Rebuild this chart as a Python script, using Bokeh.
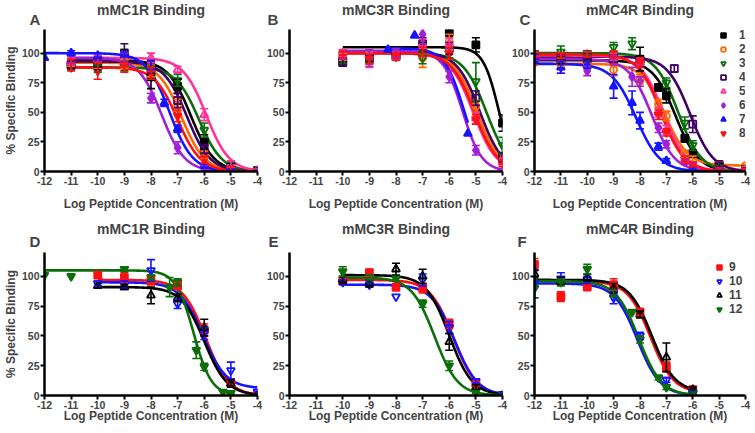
import numpy as np
from bokeh.plotting import figure
from bokeh.models import (Range1d, FixedTicker, Whisker, TeeHead, Title,
                          ColumnDataSource, Legend, LegendItem)
from bokeh.layouts import gridplot
from bokeh.embed import file_html
from bokeh.resources import INLINE

FONT = "Liberation Sans"

# ---------------- data ----------------
x_ticks = [-12, -11, -10, -9, -8, -7, -6, -5, -4]
x_tick_labels = ["-12", "-11", "-10", "-9", "-8", "-7", "-6", "-5", "-4"]
y_ticks = [0, 25, 50, 75, 100]
y_tick_labels = ["0", "25", "50", "75", "100"]

panel_titles = ["mMC1R Binding", "mMC3R Binding", "mMC4R Binding",
                "mMC1R Binding", "mMC3R Binding", "mMC4R Binding"]
panel_letters = ["A", "B", "C", "D", "E", "F"]
x_label = "Log Peptide Concentration (M)"
y_label = "% Specific Binding"

top_names = ["1", "2", "3", "4", "5", "6", "7", "8"]
top_colors = ["#000000", "#FF6A00", "#0B6E0B", "#3F0068", "#FF3399", "#A020D8", "#1414FF", "#FF1010"]
top_markers = ["square", "circle", "inverted_triangle", "square", "triangle", "diamond", "triangle", "inverted_triangle"]
top_filled = [True, False, False, False, False, True, True, True]

bot_names = ["9", "10", "11", "12"]
bot_colors = ["#FF1010", "#1414FF", "#000000", "#0B6E0B"]
bot_markers = ["square", "inverted_triangle", "triangle", "inverted_triangle"]
bot_filled = [True, False, False, True]

# fit parameters: [top, bottom, logIC50, hill]
A_x = [-12, -11, -10, -9, -8, -7.5, -7, -6, -5, -4]
A_y = [
    [None, 90, 92, 97, 80, None, 72, 25, 4, 1],
    [None, 92, 90, 91, 85, None, 56, 14, 2, 1],
    [None, 88, 87, 89, 86, None, 77, 35, 5, 1],
    [None, 90, 90, 100, 88, None, 60, 19, 2, 0],
    [None, 93, 95, 96, 96, None, 86, 48, 6, 1],
    [None, 95, 96, 96, 62, None, 20, 3, 1, 0],
    [96, 100, 98, 99, 90, 58, 36, 5, 1, 0],
    [None, 90, 85, 88, 83, None, 47, 10, 2, 0],
]
A_err = [
    [0, 3, 4, 6, 10, 0, 6, 6, 3, 1],
    [0, 3, 3, 4, 5, 0, 5, 3, 2, 1],
    [0, 2, 3, 4, 3, 0, 5, 6, 3, 1],
    [0, 3, 4, 8, 5, 0, 6, 4, 2, 1],
    [0, 3, 3, 5, 4, 0, 3, 5, 3, 1],
    [0, 3, 3, 4, 4, 0, 5, 2, 1, 1],
    [0, 2, 2, 2, 4, 3, 3, 2, 1, 1],
    [0, 5, 7, 4, 5, 0, 5, 3, 2, 1],
]
A_fit = [[94, 0, -6.5, 1], [92, 0, -6.85, 1], [88, 0, -6.2, 1], [93, 0, -6.65, 1],
         [96, 0, -5.93, 1], [96, 0, -7.6, 1], [100, 0, -7.3, 1], [88, 0, -7.0, 1]]

B_x = [-10, -9, -8.3, -8, -7.3, -7, -6, -5.3, -5, -4]
B_y = [
    [93, 96, None, 97, None, 105, 118, None, 107, 41],
    [97, 96, None, 97, None, 96, 110, None, 55, 12],
    [94, 96, None, 97, None, 96, 100, None, 76, 22],
    [92, 95, None, 98, None, 108, 104, None, 62, 12],
    [100, 94, None, 98, None, 108, 108, None, 45, 8],
    [98, 96, None, 100, None, 116, 80, None, 18, 0],
    [None, None, 103, None, 115, None, None, 32, None, None],
    [99, 95, None, 97, None, 101, 100, None, 44, 7],
]
B_err = [
    [2, 3, 0, 3, 0, 4, 4, 0, 6, 7],
    [3, 5, 0, 3, 0, 8, 6, 0, 5, 4],
    [3, 4, 0, 3, 0, 5, 4, 0, 16, 7],
    [3, 4, 0, 3, 0, 5, 5, 0, 6, 4],
    [3, 6, 0, 3, 0, 4, 5, 0, 5, 3],
    [3, 7, 0, 4, 0, 8, 5, 0, 4, 1],
    [0, 0, 0, 0, 0, 0, 0, 0, 0, 0],
    [3, 4, 0, 3, 0, 4, 5, 0, 4, 3],
]
B_fit = [[105, 0, -4.15, 1.5], [100, 0, -4.95, 1], [100, 0, -4.6, 1], [101, 0, -4.85, 1],
         [100, 0, -5.1, 1], [102, 0, -5.5, 1.2], [104, 0, -5.45, 1.2], [100, 0, -5.05, 1]]

C_x = [-12, -11, -10, -9, -8.3, -8, -7.3, -7, -6.7, -6.3, -6, -5, -4]
C_y = [
    [94, 94, 95, 96, None, 95, 71, 64, None, 28, 15, 5, 1],
    [92, 91, 90, 86, None, 78, 57, 47, None, 15, 10, 6, 5],
    [100, 101, 100, 105, 108, None, None, 75, None, 41, 22, 3, 1],
    [97, 96, 98, 95, None, 93, None, None, 87, None, 40, 6, 2],
    [99, 98, 99, 97, None, 93, 50, 35, None, 10, 5, 2, 1],
    [96, 88, 85, 94, 80, 76, 37, 23, None, 8, 5, 2, 1],
    [93, 88, 90, 72, 58, 43, 21, 9, None, None, 2, 1, 0],
    [99, 98, 99, 99, None, 92, 48, 33, None, 10, 6, 2, 1],
]
C_err = [
    [3, 3, 2, 4, 0, 10, 3, 6, 0, 3, 3, 2, 1],
    [2, 2, 3, 5, 0, 4, 4, 4, 0, 3, 3, 2, 1],
    [2, 5, 2, 4, 5, 0, 0, 4, 0, 5, 4, 2, 1],
    [2, 3, 2, 3, 0, 3, 0, 0, 3, 0, 7, 2, 1],
    [2, 2, 2, 3, 0, 3, 4, 4, 0, 3, 2, 1, 1],
    [2, 5, 4, 4, 8, 4, 4, 3, 0, 2, 2, 1, 1],
    [2, 5, 3, 10, 10, 7, 3, 2, 0, 0, 1, 1, 1],
    [2, 2, 2, 3, 0, 4, 4, 3, 0, 3, 2, 1, 1],
]
C_fit = [[94, 0, -6.65, 1], [91, 5, -7.05, 1], [100, 0, -6.55, 1], [97, 0, -6.1, 1],
         [98, 0, -7.1, 1], [95, 0, -7.55, 1], [91, 0, -8.15, 0.95], [99, 0, -7.2, 1]]

D_x = [-12, -11, -10, -9, -8, -7.3, -7, -6.3, -6, -5.3, -5, -4]
D_y = [
    [None, None, 101, 99, 96, None, 92, None, 55, None, 10, 0],
    [None, None, 94, 93, 105, None, 77, None, 52, None, 21, 3],
    [None, None, 92, 91, 84, None, 82, None, 57, None, 10, 0],
    [101, 100, None, 106, 99, 91, 95, 38, 24, 3, 2, None],
]
D_err = [
    [0, 0, 2, 4, 3, 0, 3, 0, 5, 0, 3, 1],
    [0, 0, 2, 3, 9, 0, 4, 0, 5, 0, 7, 2],
    [0, 0, 2, 2, 7, 0, 3, 0, 7, 0, 3, 1],
    [0, 0, 0, 2, 2, 8, 3, 7, 3, 0, 1, 0],
]
D_fit = [[97, 0, -5.95, 1], [95, 6, -6.05, 1], [91, 0, -6.0, 1], [105, 0, -6.4, 1.3]]

E_x = [-10, -9, -8, -7, -6, -5, -4]
E_y = [
    [96, 103, 91, 90, 60, 10, 0],
    [95, 93, 83, 97, 57, 12, 1],
    [97, 94, 106, 100, 45, 7, 0],
    [104, 99, 98, 77, 25, 3, 0],
]
E_err = [
    [2, 3, 3, 4, 4, 2, 1],
    [2, 2, 0, 5, 5, 2, 1],
    [3, 3, 5, 6, 7, 2, 1],
    [4, 2, 2, 3, 4, 1, 1],
]
E_fit = [[97, 0, -5.85, 1], [93, 0, -5.8, 1], [101, 0, -6.0, 1], [99, 0, -6.55, 1]]

F_x = [-12, -11, -10, -9, -8.3, -8, -7.3, -7, -6]
F_y = [
    [110, 83, 91, 93, None, 70, None, 24, 5],
    [94, 98, 97, 82, None, 50, None, 13, 3],
    [102, 96, 99, 90, None, 68, None, 32, 5],
    [90, 95, 106, 86, 70, 47, 15, 7, 2],
]
F_err = [
    [5, 4, 2, 5, 0, 3, 0, 4, 2],
    [12, 5, 3, 5, 0, 3, 0, 2, 1],
    [3, 3, 3, 4, 0, 3, 0, 12, 2],
    [8, 3, 4, 3, 0, 3, 2, 2, 1],
]
F_fit = [[96, 2, -7.6, 1], [94, 0, -8.1, 1], [97, 3, -7.55, 1], [96, 0, -8.05, 1]]


def logistic(x, top, bottom, logic50, hill):
    return bottom + (top - bottom) / (1.0 + 10.0 ** ((x - logic50) * hill))


FRAME_W = 214


def make_panel(idx, xs, ys, errs, fits, names, colors, markers, filled,
               left, right, top, bottom, height, ylab, xlab_standoff,
               letter_offset, letter_standoff, title_standoff,
               legend_loc=None, legend_standoff=8):
    width = left + FRAME_W + right
    p = figure(width=width, height=height, x_range=Range1d(-12, -4), y_range=Range1d(0, 120),
               output_backend="svg", toolbar_location=None, title=None,
               min_border_left=left, min_border_right=right,
               min_border_top=top, min_border_bottom=bottom)
    p.outline_line_color = None
    p.grid.visible = False
    p.background_fill_color = "white"
    p.border_fill_color = "white"

    # panel letter (nearest the frame), then the title above it
    p.add_layout(Title(text=panel_letters[idx], align="left", offset=letter_offset,
                       standoff=letter_standoff, text_font=FONT, text_font_size="15px",
                       text_font_style="bold"), "above")
    p.add_layout(Title(text=panel_titles[idx], align="center", standoff=title_standoff,
                       text_font=FONT, text_font_size="14px", text_font_style="bold"), "above")

    for ax in (p.xaxis[0], p.yaxis[0]):
        ax.axis_line_width = 2.5
        ax.major_tick_line_width = 2
        ax.major_tick_in = 0
        ax.major_tick_out = 4
        ax.minor_tick_line_color = None
        ax.major_label_text_font = FONT
        ax.major_label_text_font_style = "bold"
        ax.major_label_text_font_size = "10.5px"
        ax.major_label_standoff = 1
        ax.axis_label_text_font = FONT
        ax.axis_label_text_font_style = "bold"
        ax.axis_label_text_font_size = "12px"
        ax.axis_label_standoff = 1
    p.xaxis[0].axis_label_standoff = xlab_standoff
    p.xaxis[0].ticker = FixedTicker(ticks=x_ticks)
    p.xaxis[0].major_label_overrides = {t: s for t, s in zip(x_ticks, x_tick_labels)}
    p.yaxis[0].ticker = FixedTicker(ticks=y_ticks)
    p.yaxis[0].major_label_overrides = {t: s for t, s in zip(y_ticks, y_tick_labels)}
    p.xaxis[0].axis_label = x_label
    if ylab:
        p.yaxis[0].axis_label = y_label

    # fitted curves
    for s, (yv, fit) in enumerate(zip(ys, fits)):
        xv = [x for x, y in zip(xs, yv) if y is not None]
        xx = np.linspace(min(xv), max(xv), 240)
        p.line(xx, logistic(xx, *fit), line_color=colors[s], line_width=2.6)

    # error bars
    for s, (yv, ev) in enumerate(zip(ys, errs)):
        bx, lo, hi = [], [], []
        for x, y, e in zip(xs, yv, ev):
            if y is not None and e:
                bx.append(x); lo.append(y - e); hi.append(y + e)
        if bx:
            src = ColumnDataSource(dict(x=bx, lo=lo, hi=hi))
            c = colors[s]
            w = Whisker(source=src, base="x", lower="lo", upper="hi",
                        line_color=c, line_width=1.6, level="glyph",
                        upper_head=TeeHead(size=8, line_color=c, line_width=1.6),
                        lower_head=TeeHead(size=8, line_color=c, line_width=1.6))
            p.add_layout(w)

    # data points
    rends = []
    for s, yv in enumerate(ys):
        px = [x for x, y in zip(xs, yv) if y is not None]
        py = [y for y in yv if y is not None]
        m = markers[s]
        size = 7 if m in ("square", "circle") else (9 if m == "diamond" else 8)
        r = p.scatter(px, py, marker=m, size=size, line_color=colors[s], line_width=1.8,
                      fill_color=colors[s] if filled[s] else None)
        rends.append(r)

    if legend_loc is not None:
        items = [LegendItem(label=n, renderers=[r]) for n, r in zip(names, rends)]
        lg = Legend(items=items, location=legend_loc, border_line_color=None,
                    background_fill_alpha=0, label_text_font=FONT,
                    label_text_font_style="bold", label_text_font_size="12px",
                    glyph_width=12, glyph_height=12, label_height=12,
                    label_standoff=legend_standoff, spacing=0, padding=0, margin=0)
        p.add_layout(lg)
    return p


H1, T1, B1 = 213, 29, 40
H2, T2, B2 = 219, 39, 37

pA = make_panel(0, A_x, A_y, A_err, A_fit, top_names, top_colors, top_markers, top_filled,
                43, 6, T1, B1, H1, True, 9, -15, 4, -22)
pB = make_panel(1, B_x, B_y, B_err, B_fit, top_names, top_colors, top_markers, top_filled,
                25, 6, T1, B1, H1, False, 9, -22, 4, -22)
pC = make_panel(2, C_x, C_y, C_err, C_fit, top_names, top_colors, top_markers, top_filled,
                23, 9, T1, B1, H1, False, 9, -15, 4, -22,
                legend_loc=(183, 31), legend_standoff=10)
pD = make_panel(3, D_x, D_y, D_err, D_fit, bot_names, bot_colors, bot_markers, bot_filled,
                43, 6, T2, B2, H2, True, -3, -15, 6, -18)
pE = make_panel(4, E_x, E_y, E_err, E_fit, bot_names, bot_colors, bot_markers, bot_filled,
                25, 6, T2, B2, H2, False, -3, -21, 6, -18)
pF = make_panel(5, F_x, F_y, F_err, F_fit, bot_names, bot_colors, bot_markers, bot_filled,
                23, 9, T2, B2, H2, False, -3, -17, 6, -18,
                legend_loc=(179, 79), legend_standoff=4)

grid = gridplot([[pA, pB, pC], [pD, pE, pF]], toolbar_location=None)

open("out.html", "w").write(file_html(grid, INLINE))
